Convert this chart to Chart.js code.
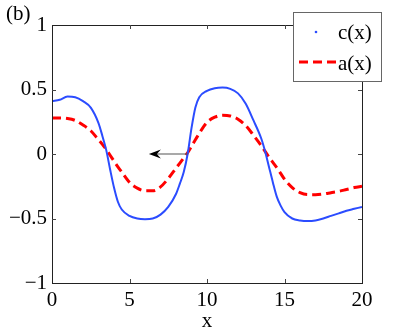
<!DOCTYPE html>
<html>
<head>
<meta charset="utf-8">
<script src="https://cdn.jsdelivr.net/npm/chart.js@4/dist/chart.umd.min.js"></script>
<style>
  html, body { margin: 0; padding: 0; background: #fff; }
  #wrap { width: 399px; height: 334px; }
</style>
</head>
<body>
<div id="wrap"><canvas id="chart"></canvas></div>
<script>
// values (denser where the curves are steep)
const xs = [0, 0.5, 1, 1.5, 2, 2.5, 3, 3.25, 3.5, 3.75, 4, 4.25, 4.5, 5, 5.5, 6, 6.5, 7, 7.5, 8, 8.25, 8.5, 8.75, 9, 9.25, 9.5,
  10, 10.5, 11, 11.5, 12, 12.5, 13, 13.5, 13.75, 14, 14.25, 14.5, 14.75, 15, 15.5, 16, 16.5, 17, 17.5, 18, 18.5, 19, 19.5, 20];
const cValues = [0.41, 0.42, 0.445, 0.44, 0.41, 0.36, 0.24, 0.14, 0.03, -0.12, -0.26, -0.37, -0.43, -0.48, -0.5, -0.505, -0.5, -0.47, -0.41, -0.31, -0.23, -0.14, 0.0, 0.2, 0.36, 0.44,
  0.49, 0.51, 0.515, 0.505, 0.47, 0.39, 0.26, 0.12, 0.02, -0.1, -0.22, -0.33, -0.4, -0.45, -0.5, -0.515, -0.52, -0.515, -0.5, -0.48, -0.46, -0.44, -0.425, -0.41];
const aValues = [0.28, 0.28, 0.275, 0.26, 0.225, 0.18, 0.11, 0.075, 0.035, -0.01, -0.055, -0.1, -0.14, -0.22, -0.265, -0.285, -0.285, -0.255, -0.19, -0.11, -0.07, -0.03, 0.01, 0.06, 0.11, 0.16,
  0.245, 0.285, 0.3, 0.295, 0.27, 0.22, 0.145, 0.065, 0.02, -0.025, -0.065, -0.105, -0.15, -0.195, -0.26, -0.3, -0.315, -0.315, -0.31, -0.3, -0.29, -0.275, -0.26, -0.25];
const xTicks = [0, 5, 10, 15, 20];
const yTicks = [-1, -0.5, 0, 0.5, 1];
const arrow = { from: 8.75, to: 6.25, y: 0 };
const panelLabel = "(b)";

const SERIF = "'Liberation Serif', 'DejaVu Serif', serif";
const BLUE = "#2b4cff";
const RED = "#ff0000";

const fmt = (v) => (v < 0 ? "\u2212" + Math.abs(v) : String(v));

// box, inward ticks, arrow, legend and panel label
const decorations = {
  id: "decorations",
  afterDatasetsDraw(chart) {
    const { ctx, chartArea: a, scales } = chart;
    const sx = scales.x, sy = scales.y;
    ctx.save();

    // arrow
    const y0 = sy.getPixelForValue(arrow.y);
    const x1 = sx.getPixelForValue(arrow.from);
    const x2 = sx.getPixelForValue(arrow.to);
    ctx.strokeStyle = "#555";
    ctx.lineWidth = 1.2;
    ctx.beginPath();
    ctx.moveTo(x1, y0);
    ctx.lineTo(x2 + 6, y0);
    ctx.stroke();
    ctx.fillStyle = "#000";
    ctx.beginPath();
    ctx.moveTo(x2, y0);
    ctx.lineTo(x2 + 12, y0 - 4.5);
    ctx.lineTo(x2 + 8, y0);
    ctx.lineTo(x2 + 12, y0 + 4.5);
    ctx.closePath();
    ctx.fill();

    // axes box
    ctx.lineWidth = 1;
    ctx.strokeStyle = "#222";
    ctx.strokeRect(Math.round(a.left) + 0.5, Math.round(a.top) + 0.5,
      Math.round(a.right - a.left), Math.round(a.bottom - a.top));

    // inward ticks
    ctx.strokeStyle = "#444";
    ctx.beginPath();
    xTicks.slice(1, -1).forEach((v) => {
      const px = Math.round(sx.getPixelForValue(v)) + 0.5;
      ctx.moveTo(px, a.bottom); ctx.lineTo(px, a.bottom - 4);
      ctx.moveTo(px, a.top); ctx.lineTo(px, a.top + 4);
    });
    yTicks.slice(1, -1).forEach((v) => {
      const py = Math.round(sy.getPixelForValue(v)) + 0.5;
      ctx.moveTo(a.left, py); ctx.lineTo(a.left + 4, py);
      ctx.moveTo(a.right, py); ctx.lineTo(a.right - 4, py);
    });
    ctx.stroke();

    // legend
    const lx = 293, ly = 12, lw = 88, lh = 69;
    ctx.fillStyle = "#fff";
    ctx.fillRect(lx, ly, lw, lh);
    ctx.strokeStyle = "#666";
    ctx.strokeRect(lx + 0.5, ly + 0.5, lw, lh);
    const ds = chart.data.datasets;
    ctx.fillStyle = ds[0].borderColor;
    ctx.beginPath();
    ctx.arc(316, 32, 1.3, 0, Math.PI * 2);
    ctx.fill();
    ctx.strokeStyle = ds[1].borderColor;
    ctx.lineWidth = 3;
    ctx.setLineDash(ds[1].borderDash);
    ctx.beginPath();
    ctx.moveTo(299, 62);
    ctx.lineTo(336, 62);
    ctx.stroke();
    ctx.setLineDash([]);
    ctx.fillStyle = "#000";
    ctx.font = "21px " + SERIF;
    ctx.textBaseline = "middle";
    ctx.textAlign = "left";
    ctx.fillText(ds[0].label, 338, 33);
    ctx.fillText(ds[1].label, 338, 64);

    // panel label
    ctx.fillText(panelLabel, 6, 14);
    ctx.restore();
  },
};

new Chart(document.getElementById("chart"), {
  type: "line",
  data: {
    labels: xs,
    datasets: [
      {
        label: "c(x)",
        data: xs.map((x, i) => ({ x, y: cValues[i] })),
        borderColor: BLUE,
        borderWidth: 2,
        pointRadius: 0,
        cubicInterpolationMode: "monotone",
      },
      {
        label: "a(x)",
        data: xs.map((x, i) => ({ x, y: aValues[i] })),
        borderColor: RED,
        borderWidth: 3,
        borderDash: [9, 5],
        pointRadius: 0,
        cubicInterpolationMode: "monotone",
      },
    ],
  },
  options: {
    responsive: true,
    maintainAspectRatio: false,
    animation: false,
    layout: { padding: { left: 0, right: 37, top: 25, bottom: 0 } },
    plugins: { legend: { display: false }, tooltip: { enabled: false } },
    scales: {
      x: {
        type: "linear",
        min: 0,
        max: 20,
        afterBuildTicks: (s) => { s.ticks = xTicks.map((v) => ({ value: v })); },
        afterFit: (s) => { s.height = 51; },
        ticks: { font: { family: SERIF, size: 21 }, color: "#000", padding: 5, maxRotation: 0 },
        grid: { display: false, drawTicks: false },
        border: { display: false },
        title: { display: true, text: "x", font: { family: SERIF, size: 21 }, color: "#000", padding: 0 },
      },
      y: {
        min: -1,
        max: 1,
        afterBuildTicks: (s) => { s.ticks = yTicks.map((v) => ({ value: v })); },
        afterFit: (s) => { s.width = 52; },
        ticks: { font: { family: SERIF, size: 21 }, color: "#000", padding: 5, callback: fmt },
        grid: { display: false, drawTicks: false },
        border: { display: false },
      },
    },
  },
  plugins: [decorations],
});
</script>
</body>
</html>
